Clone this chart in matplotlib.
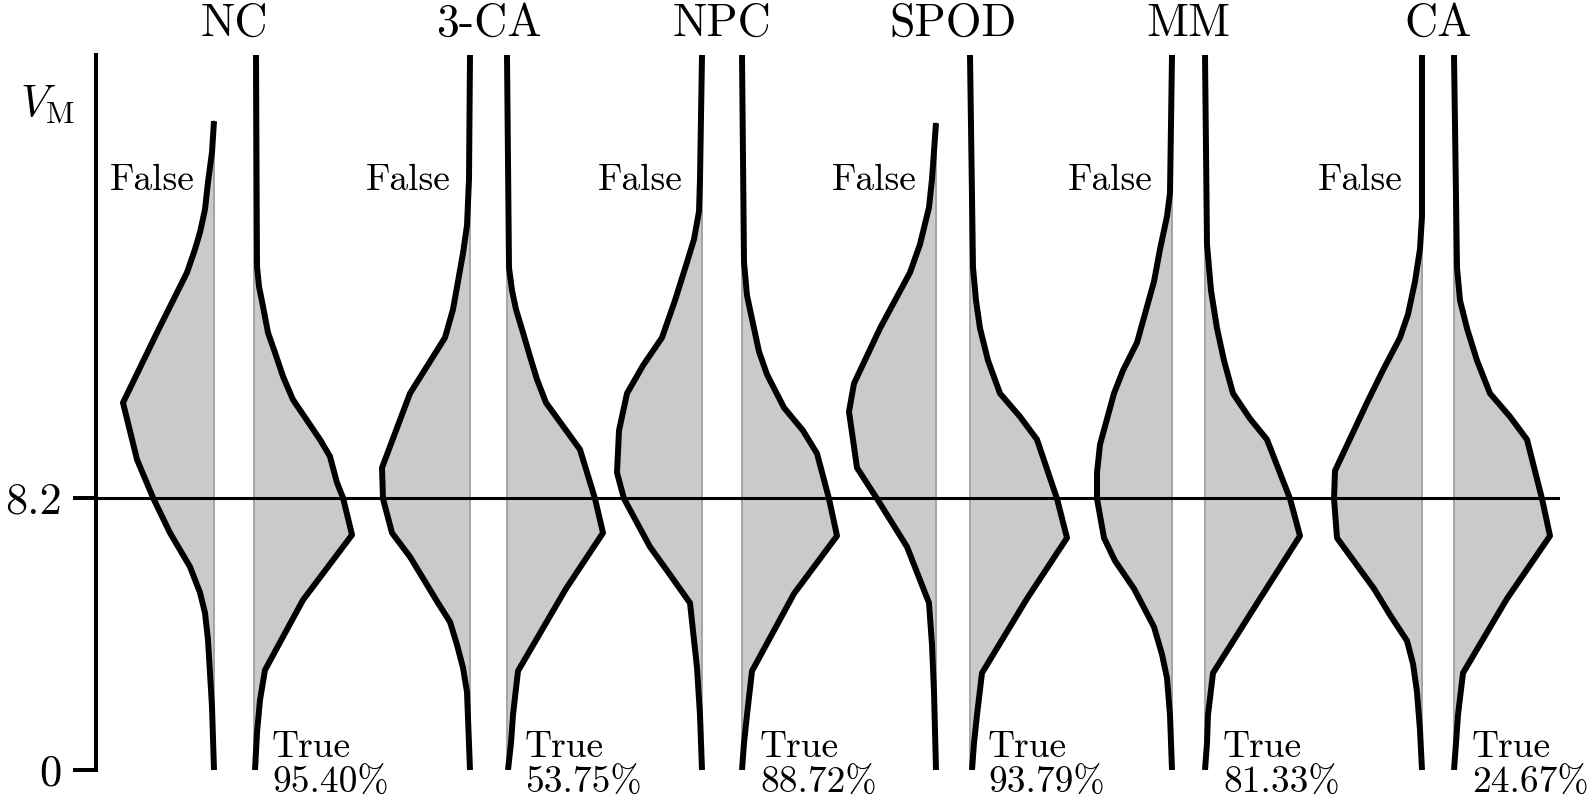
import numpy as np
import matplotlib.pyplot as plt

plt.rcParams['font.family'] = ['cmr10', 'DejaVu Serif']
plt.rcParams['mathtext.fontset'] = 'cm'
plt.rcParams['axes.formatter.use_mathtext'] = True

methods = ['NC', '3-CA', 'NPC', 'SPOD', 'MM', 'CA']
true_share = ['95.40%', '53.75%', '88.72%', '93.79%', '81.33%', '24.67%']
threshold = 8.2
v_top = 21.53

# half-violin profiles: V_M level and half width
nc_false_v = [0, 1.90, 2.92, 3.92, 4.73, 5.34, 6.12, 6.63, 7.14, 8.20, 9.35, 11.06,
              13.17, 14.98, 15.68, 16.19, 16.88, 17.70, 18.60, 19.54]
nc_false_w = [0, 0.02, 0.04, 0.06, 0.09, 0.14, 0.24, 0.34, 0.44, 0.61, 0.77, 0.91,
              0.57, 0.27, 0.19, 0.14, 0.09, 0.06, 0.02, 0]
nc_true_v = [0, 1.12, 2.11, 3.01, 5.12, 7.08, 8.20, 8.65, 9.44, 9.95, 11.15, 11.85,
             12.57, 13.17, 13.96, 14.56, 15.16, 21.53]
nc_true_w = [0.01, 0.03, 0.06, 0.11, 0.49, 0.98, 0.89, 0.83, 0.76, 0.66, 0.39, 0.29,
             0.21, 0.14, 0.09, 0.05, 0.03, 0.02]

ca3_false_v = [0, 2.35, 3.08, 3.77, 4.46, 5.03, 6.42, 7.14, 8.17, 9.10, 11.34, 13.02,
               13.87, 14.71, 15.56, 16.40, 17.79, 21.53]
ca3_false_w = [0, 0.03, 0.07, 0.13, 0.20, 0.32, 0.60, 0.78, 0.87, 0.88, 0.60, 0.25,
               0.17, 0.12, 0.07, 0.03, 0.01, 0]
ca3_true_v = [0, 0.81, 1.66, 2.98, 5.46, 7.14, 8.17, 9.65, 11.06, 11.76, 12.45, 13.17,
              13.87, 14.44, 15.13, 21.53]
ca3_true_w = [0.01, 0.04, 0.06, 0.11, 0.59, 0.96, 0.88, 0.73, 0.39, 0.30, 0.23, 0.16,
              0.09, 0.05, 0.02, 0]

npc_false_v = [0, 1.66, 3.08, 5.03, 5.88, 6.72, 8.17, 8.95, 10.22, 11.34, 12.18, 13.02,
               14.14, 15.29, 15.98, 16.82, 17.79, 21.53]
npc_false_w = [0, 0.02, 0.05, 0.12, 0.32, 0.52, 0.78, 0.85, 0.83, 0.75, 0.59, 0.40,
               0.27, 0.15, 0.08, 0.03, 0.02, 0]
npc_true_v = [0, 0.81, 1.66, 2.98, 5.31, 7.05, 8.17, 9.53, 10.22, 10.91, 11.91, 12.60,
              13.30, 14.29, 15.29, 21.53]
npc_true_w = [0, 0.02, 0.05, 0.10, 0.52, 0.95, 0.87, 0.75, 0.61, 0.42, 0.25, 0.17,
              0.12, 0.05, 0.02, 0]

spod_false_v = [0, 2.35, 3.77, 5.03, 6.72, 8.17, 9.10, 10.79, 11.64, 13.30, 14.98,
                15.83, 16.94, 17.79, 19.48]
spod_false_w = [0, 0.02, 0.04, 0.07, 0.29, 0.59, 0.79, 0.87, 0.82, 0.56, 0.26,
                0.16, 0.07, 0.04, 0]
spod_true_v = [0, 0.81, 1.66, 2.92, 5.16, 6.99, 8.17, 9.95, 10.64, 11.34, 12.33, 13.30,
               14.14, 15.13, 21.53]
spod_true_w = [0.02, 0.04, 0.07, 0.12, 0.57, 0.97, 0.87, 0.67, 0.50, 0.30, 0.18, 0.10,
               0.06, 0.03, 0]

mm_false_v = [0, 1.66, 2.77, 3.48, 4.31, 5.46, 6.30, 6.99, 8.17, 8.95, 9.80, 11.34,
              12.03, 12.87, 14.71, 15.68, 16.67, 17.37, 21.53]
mm_false_w = [0, 0.02, 0.05, 0.10, 0.18, 0.38, 0.57, 0.68, 0.75, 0.75, 0.72, 0.58,
              0.49, 0.35, 0.18, 0.12, 0.05, 0.02, 0]
mm_true_v = [0, 0.81, 1.66, 2.92, 5.16, 7.05, 8.17, 9.95, 10.58, 11.34, 12.33, 13.30,
             14.44, 15.83, 21.53]
mm_true_w = [0, 0.02, 0.03, 0.08, 0.55, 0.95, 0.85, 0.62, 0.45, 0.28, 0.19, 0.12,
             0.06, 0.02, 0]

ca_false_v = [0, 1.20, 2.35, 3.20, 3.89, 4.67, 5.46, 6.99, 8.17, 9.01, 11.06, 12.04,
              13.02, 13.72, 14.71, 15.69, 16.67, 21.53]
ca_false_w = [0, 0.02, 0.05, 0.09, 0.15, 0.32, 0.48, 0.85, 0.88, 0.87, 0.55, 0.39,
              0.22, 0.14, 0.07, 0.02, 0, 0]
ca_true_v = [0, 0.81, 1.66, 2.92, 5.16, 7.05, 8.17, 9.95, 10.64, 11.34, 12.33, 13.30,
             14.14, 15.13, 21.53]
ca_true_w = [0, 0.02, 0.04, 0.09, 0.53, 0.96, 0.88, 0.73, 0.56, 0.36, 0.23, 0.13,
             0.06, 0.03, 0]

false_profiles = [(nc_false_v, nc_false_w), (ca3_false_v, ca3_false_w),
                  (npc_false_v, npc_false_w), (spod_false_v, spod_false_w),
                  (mm_false_v, mm_false_w), (ca_false_v, ca_false_w)]
true_profiles = [(nc_true_v, nc_true_w), (ca3_true_v, ca3_true_w),
                 (npc_true_v, npc_true_w), (spod_true_v, spod_true_w),
                 (mm_true_v, mm_true_w), (ca_true_v, ca_true_w)]

# layout: baseline of each half violin
false_x = [2.14, 4.70, 7.02, 9.36, 11.72, 14.22]
true_x = [2.54, 5.07, 7.42, 9.70, 12.05, 14.54]


def half_violin(ax, x0, v, w, side):
    v = np.asarray(v)
    xs = x0 + side * np.asarray(w)
    ax.fill_betweenx(v, x0, xs, color='#cacaca', lw=0, zorder=1)
    ax.plot([x0, x0], [0, v.max()], color='#a0a0a0', lw=1.3, zorder=2)
    ax.plot(xs, v, color='black', lw=4.3, solid_joinstyle='round',
            solid_capstyle='butt', zorder=3)


fig = plt.figure(figsize=(15.92, 8.0), dpi=100)
ax = fig.add_axes([96 / 1592, 30 / 800, 1464 / 1592, 715 / 800])

for i, name in enumerate(methods):
    fv, fw = false_profiles[i]
    tv, tw = true_profiles[i]
    half_violin(ax, false_x[i], fv, fw, -1)
    half_violin(ax, true_x[i], tv, tw, 1)
    mid = (false_x[i] + true_x[i]) / 2
    ax.text(mid, 22.10, name, ha='center', va='baseline', fontsize=33, clip_on=False)
    ax.text(false_x[i] - 0.19, 17.75, 'False', ha='right', va='center', fontsize=27)
    ax.text(true_x[i] + 0.18, 0.39, 'True', ha='left', va='baseline', fontsize=27,
            clip_on=False)
    ax.text(true_x[i] + 0.18, -0.69, true_share[i], ha='left', va='baseline',
            fontsize=27, clip_on=False)

ax.axhline(threshold, color='black', lw=2.2, zorder=4)

ax.set_xlim(0.96, 15.60)
ax.set_ylim(0, v_top)
for s in ['top', 'right', 'bottom']:
    ax.spines[s].set_visible(False)
ax.spines['left'].set_linewidth(2.9)
ax.spines['left'].set_bounds(0, v_top)
ax.set_xticks([])
ax.set_yticks([0, threshold])
ax.set_yticklabels(['0', '8.2'])
ax.tick_params(axis='y', length=16.5, width=2.9, pad=8, labelsize=32)
ax.set_ylabel(r'$V_\mathrm{M}$', rotation=0, fontsize=32, ha='center', va='center')
ax.yaxis.set_label_coords(-0.033, 0.93)

fig.savefig('out.png', dpi=100)
